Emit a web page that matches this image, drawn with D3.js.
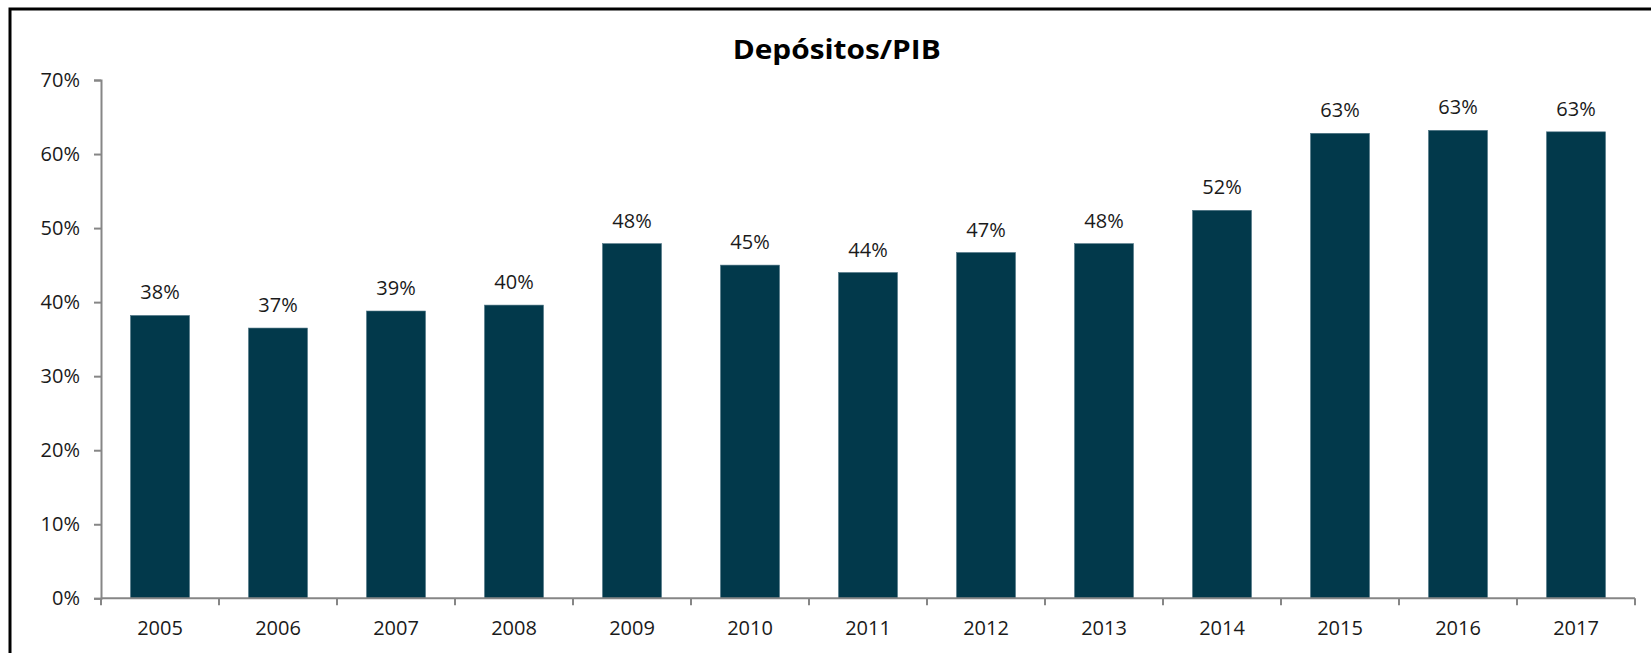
<!DOCTYPE html>
<html>
<head>
<meta charset="utf-8">
<script src="https://cdn.jsdelivr.net/npm/d3@7/dist/d3.min.js"></script>
<style>
  html, body { margin: 0; padding: 0; background: #fff; }
  svg { display: block; }
  text { font-family: "Open Sans", "Liberation Sans", sans-serif; }
</style>
</head>
<body>
<svg id="chart" width="1651" height="653"></svg>
<script>
const title = "Depósitos/PIB";
const years = ["2005","2006","2007","2008","2009","2010","2011","2012","2013","2014","2015","2016","2017"];
const values = [0.382, 0.365, 0.388, 0.396, 0.479, 0.450, 0.440, 0.467, 0.479, 0.524, 0.628, 0.632, 0.630];
const yTicks = [0, 0.1, 0.2, 0.3, 0.4, 0.5, 0.6, 0.7];

const W = 1651, H = 653;
const margin = { left: 101, right: 16, top: 80, bottom: 55 };
const svg = d3.select("#chart");

// outer frame (extends beyond right/bottom edges)
svg.append("rect")
  .attr("x", 10).attr("y", 9)
  .attr("width", W + 20).attr("height", H + 20)
  .attr("fill", "none").attr("stroke", "#000").attr("stroke-width", 3);

const x = d3.scaleBand().domain(years).range([101, 1635]).paddingInner(0.5).paddingOuter(0.25);
const y = d3.scaleLinear().domain([0, 0.7]).range([598.3, 80]);

const axisColor = "#868686";
const textColor = "#1a1a1a";

// bars
svg.append("g").selectAll("rect").data(values).join("rect")
  .attr("x", (d, i) => x(years[i]))
  .attr("y", d => y(d))
  .attr("width", x.bandwidth())
  .attr("height", d => y(0) - y(d))
  .attr("fill", "#02394b")
  .attr("stroke", "#4f7585").attr("stroke-width", 0.6);

// y axis
const yAxis = svg.append("g").attr("transform", "translate(101,0)")
  .call(d3.axisLeft(y).tickValues(yTicks).tickFormat(d3.format(".0%")).tickSize(7).tickPadding(14));
yAxis.select(".domain").attr("stroke", axisColor).attr("stroke-width", 2);
yAxis.selectAll(".tick line").attr("stroke", axisColor).attr("stroke-width", 2);
yAxis.selectAll(".tick text").attr("fill", textColor).style("font-size", "20px")
  .style("font-family", '"Open Sans", sans-serif');

// x axis with ticks at category boundaries
const xAxisG = svg.append("g").attr("transform", `translate(0,${y(0)})`);
xAxisG.append("line").attr("x1", 101).attr("x2", 1635).attr("y1", 0).attr("y2", 0)
  .attr("stroke", axisColor).attr("stroke-width", 2);
const step = x.step();
const boundaries = d3.range(years.length + 1).map(i => 101 + i * (1534 / years.length));
xAxisG.selectAll("line.tk").data(boundaries).join("line").attr("class", "tk")
  .attr("x1", d => d).attr("x2", d => d).attr("y1", 0).attr("y2", 7)
  .attr("stroke", axisColor).attr("stroke-width", 2);
xAxisG.selectAll("text").data(years).join("text")
  .attr("x", d => x(d) + x.bandwidth() / 2)
  .attr("y", 37)
  .attr("text-anchor", "middle")
  .attr("fill", textColor)
  .style("font-size", "20px")
  .text(d => d);

// value labels
svg.append("g").selectAll("text").data(values).join("text")
  .attr("x", (d, i) => x(years[i]) + x.bandwidth() / 2)
  .attr("y", d => y(d) - 16)
  .attr("text-anchor", "middle")
  .attr("fill", textColor)
  .style("font-size", "20px")
  .text(d => d3.format(".0%")(d));

// title
svg.append("text")
  .attr("x", 836.7).attr("y", 59.3)
  .attr("text-anchor", "middle")
  .attr("fill", "#000")
  .style("font-size", "26px").style("font-weight", "bold")
  .attr("textLength", 208).attr("lengthAdjust", "spacingAndGlyphs")
  .text(title);
</script>
</body>
</html>
